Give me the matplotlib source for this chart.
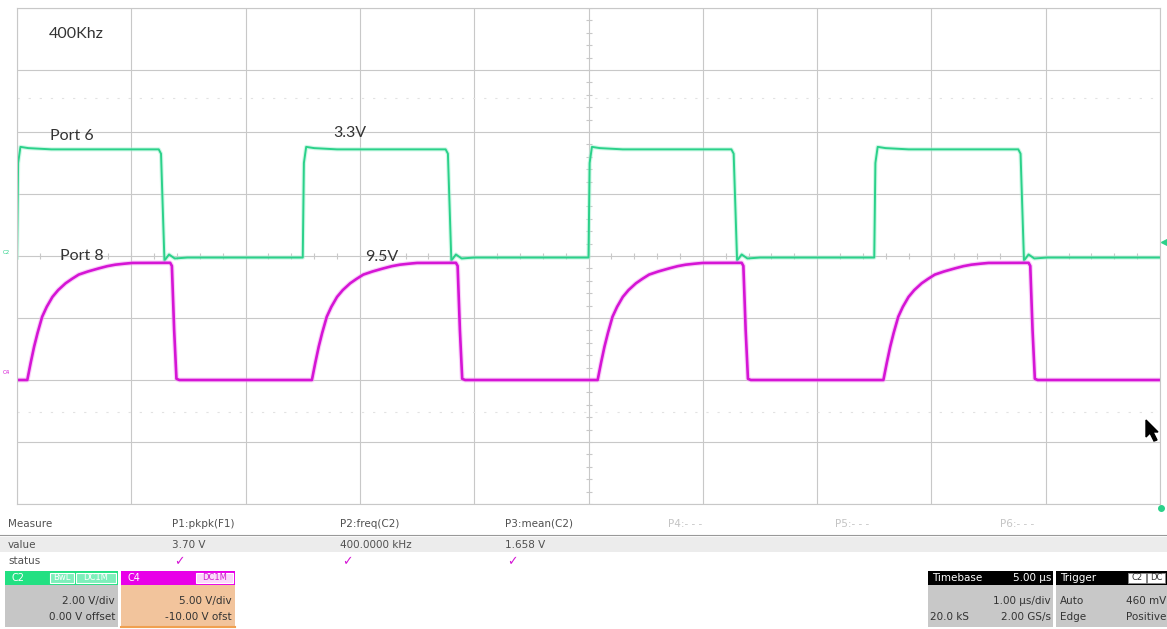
import numpy as np
import matplotlib
matplotlib.use("Agg")
import matplotlib.pyplot as plt
from matplotlib.patches import Rectangle, Polygon

# ---- waveform data (time in us, volts) ----
# C2 (Port 6), 2 V/div, 0 V offset
c2_rise_t = [-5.00, -2.50, 0.00, 2.50]
c2_fall_t = [-3.76, -1.25, 1.25, 3.76]
c2_rise_dt = [0.0, 0.01, 0.03, 0.10, 0.30]
c2_rise_v = [-0.05, 3.00, 3.52, 3.48, 3.44]
c2_fall_dt = [0.0, 0.02, 0.05, 0.09, 0.14, 0.25]
c2_fall_v = [3.44, 3.30, -0.15, 0.05, -0.08, -0.05]
c2_scale, c2_offset = 2.0, 0.0

# C4 (Port 8), 5 V/div, -10 V offset
c4_rise_t = [-4.91, -2.42, 0.08, 2.58]
c4_fall_t = [-3.66, -1.16, 1.34, 3.85]
c4_rise_dt = [0.0, 0.03, 0.06, 0.09, 0.13, 0.17, 0.22, 0.27, 0.335, 0.39,
              0.45, 0.53, 0.625, 0.70, 0.77, 0.85, 0.92]
c4_rise_v = [0.0, 1.4, 2.7, 3.8, 5.1, 5.9, 6.7, 7.25, 7.8, 8.15,
             8.5, 8.75, 9.0, 9.18, 9.3, 9.38, 9.44]
c4_fall_dt = [0.0, 0.015, 0.035, 0.055, 0.08]
c4_fall_v = [9.45, 9.20, 4.00, 0.10, 0.0]
c4_scale, c4_offset = 5.0, -10.0

measure_names = ["P1:pkpk(F1)", "P2:freq(C2)", "P3:mean(C2)", "P4:- - -", "P5:- - -", "P6:- - -"]
measure_values = ["3.70 V", "400.0000 kHz", "1.658 V", "", "", ""]
measure_x = [172, 340, 505, 668, 835, 1000]

GREEN = "#2bd18a"
MAGENTA = "#d515d5"
GRID = "#c8c8c8"


def build_trace(rise_t, rise_dt, rise_v, fall_t, fall_dt, fall_v, start_v, scale, offset):
    events = [(t, rise_dt, rise_v) for t in rise_t] + [(t, fall_dt, fall_v) for t in fall_t]
    events.sort(key=lambda e: e[0])
    ts, vs = [-5.0], [start_v]
    for t0, dts, vals in events:
        for dt, v in zip(dts, vals):
            ts.append(t0 + dt)
            vs.append(v)
    last_v = vs[-1]
    ts.append(5.0)
    vs.append(last_v)
    ts = np.array(ts)
    vs = (np.array(vs) + offset) / scale
    keep = ts >= -5.0
    return ts[keep], vs[keep]


fig = plt.figure(figsize=(11.67, 6.29), dpi=100)
fig.patch.set_facecolor("white")

# ---- scope screen ----
ax = fig.add_axes([17 / 1167, (629 - 504) / 629, 1143 / 1167, 496 / 629])
ax.set_xlim(-5, 5)
ax.set_ylim(-4, 4)
ax.set_xticks(range(-5, 6))
ax.set_yticks(range(-4, 5))
ax.tick_params(length=0, labelbottom=False, labelleft=False)
ax.grid(True, color=GRID, lw=0.8)
for s in ax.spines.values():
    s.set_color(GRID)
    s.set_linewidth(0.8)

# center graticule ticks
ticks = np.arange(-5, 5.01, 0.2)
ax.plot(ticks, np.zeros_like(ticks), ls="none", marker="|", ms=5, color=GRID, mew=0.8)
ticks_y = np.arange(-4, 4.01, 0.2)
ax.plot(np.zeros_like(ticks_y), ticks_y, ls="none", marker="_", ms=5, color=GRID, mew=0.8)
# faint dotted cursor lines
ax.axhline(2.55, color="#e2e2e2", lw=0.8, ls=(0, (2, 8)))
ax.axhline(-2.52, color="#e2e2e2", lw=0.8, ls=(0, (2, 8)))

t2, y2 = build_trace(c2_rise_t, c2_rise_dt, c2_rise_v, c2_fall_t, c2_fall_dt, c2_fall_v,
                     -0.05, c2_scale, c2_offset)
t4, y4 = build_trace(c4_rise_t, c4_rise_dt, c4_rise_v, c4_fall_t, c4_fall_dt, c4_fall_v,
                     0.0, c4_scale, c4_offset)
ax.plot(t2, y2, color="#a0f2d0", lw=3.0, alpha=0.5, solid_joinstyle="round")
ax.plot(t2, y2, color=GREEN, lw=1.4, solid_joinstyle="round")
ax.plot(t4, y4, color="#f4a0f4", lw=3.5, alpha=0.5, solid_joinstyle="round")
ax.plot(t4, y4, color=MAGENTA, lw=1.9, solid_joinstyle="round")

# ---- overlay in pixel coordinates ----
ov = fig.add_axes([0, 0, 1, 1])
ov.set_xlim(0, 1167)
ov.set_ylim(629, 0)
ov.axis("off")
ov.patch.set_visible(False)

ann = dict(fontfamily="Lato", fontsize=11.5, color="#333333", va="center", ha="left")
ov.text(49, 34, "400Khz", **ann)
ov.text(50, 136, "Port 6", **ann)
ov.text(333, 133, "3.3V", **ann)
ov.text(60, 256, "Port 8", **ann)
ov.text(365, 257, "9.5V", **ann)

# channel / trigger markers
ov.text(3, 253, "C2", fontsize=4, color=GREEN, va="center")
ov.text(3, 373, "C4", fontsize=4, color=MAGENTA, va="center")
ov.plot([1164], [242], marker="<", ms=4, color=GREEN)
ov.plot([1161], [508], marker="o", ms=4, color=GREEN)
ov.add_patch(Polygon([(1146, 420), (1146, 437), (1150, 433), (1154, 441), (1157, 440),
                      (1153, 432), (1158, 432)], closed=True, color="black"))

# ---- measurement table ----
small = dict(fontfamily="DejaVu Sans", fontsize=7.5, va="center", ha="left")
ov.text(8, 524, "Measure", color="#505050", **small)
ov.add_patch(Rectangle((0, 537), 1167, 15, color="#ececec", lw=0))
ov.plot([0, 1167], [535, 535], color="#999999", lw=0.8)
ov.text(8, 545, "value", color="#505050", **small)
ov.text(8, 561, "status", color="#505050", **small)
for name, val, x in zip(measure_names, measure_values, measure_x):
    faded = val == ""
    ov.text(x, 524, name, color="#c4c4c4" if faded else "#505050", **small)
    if not faded:
        ov.text(x, 545, val, color="#505050", **small)
        ov.text(x + 2, 562, "\u2713", fontsize=9, color=MAGENTA, va="center", ha="left",
                fontweight="bold")


def channel_box(x0, x1, head_col, body_col, name, tags, line1, line2):
    ov.add_patch(Rectangle((x0, 571), x1 - x0, 14, color=head_col, lw=0))
    ov.add_patch(Rectangle((x0, 585), x1 - x0, 42, color=body_col, lw=0))
    ov.text(x0 + 6, 578, name, fontsize=7, color="white", va="center", ha="left")
    for tx, tw, tfc, ttc, tlabel in tags:
        ov.add_patch(Rectangle((tx, 573), tw, 10, facecolor=tfc, edgecolor="white", lw=0.8))
        ov.text(tx + tw / 2, 578, tlabel, fontsize=6, color=ttc, va="center", ha="center")
    ov.text(x1 - 3, 601, line1, fontsize=7.5, color="#333333", va="center", ha="right")
    ov.text(x1 - 3, 617, line2, fontsize=7.5, color="#333333", va="center", ha="right")


channel_box(5, 118, "#22e082", "#c6c6c6", "C2",
            [(50, 24, "#7eefbb", "white", "BwL"), (76, 40, "#7eefbb", "white", "DC1M")],
            "2.00 V/div", "0.00 V offset")
channel_box(121, 235, "#e800e8", "#f2c49c", "C4",
            [(196, 37, "#fbd8fb", "#d020d0", "DC1M")],
            "5.00 V/div", "-10.00 V ofst")
ov.plot([121, 235], [627, 627], color="#f0a050", lw=1.5)

# timebase box
ov.add_patch(Rectangle((928, 571), 125, 14, color="black", lw=0))
ov.add_patch(Rectangle((928, 585), 125, 42, color="#c8c8c8", lw=0))
ov.text(932, 578, "Timebase", fontsize=7.5, color="white", va="center", ha="left")
ov.text(1051, 578, "5.00 \u00b5s", fontsize=7.5, color="white", va="center", ha="right")
ov.text(1051, 601, "1.00 \u00b5s/div", fontsize=7.5, color="#333333", va="center", ha="right")
ov.text(930, 617, "20.0 kS", fontsize=7.5, color="#333333", va="center", ha="left")
ov.text(1051, 617, "2.00 GS/s", fontsize=7.5, color="#333333", va="center", ha="right")

# trigger box
ov.add_patch(Rectangle((1056, 571), 111, 14, color="black", lw=0))
ov.add_patch(Rectangle((1056, 585), 111, 42, color="#c8c8c8", lw=0))
ov.text(1060, 578, "Trigger", fontsize=7.5, color="white", va="center", ha="left")
for bx, bl in [(1128, "C2"), (1147, "DC")]:
    ov.add_patch(Rectangle((bx, 573), 18, 10, facecolor="white", edgecolor="#888888", lw=0.6))
    ov.text(bx + 9, 578, bl, fontsize=6, color="#333333", va="center", ha="center")
ov.text(1060, 601, "Auto", fontsize=7.5, color="#333333", va="center", ha="left")
ov.text(1166, 601, "460 mV", fontsize=7.5, color="#333333", va="center", ha="right")
ov.text(1060, 617, "Edge", fontsize=7.5, color="#333333", va="center", ha="left")
ov.text(1166, 617, "Positive", fontsize=7.5, color="#333333", va="center", ha="right")

fig.savefig("out.png", dpi=100, facecolor="white")
